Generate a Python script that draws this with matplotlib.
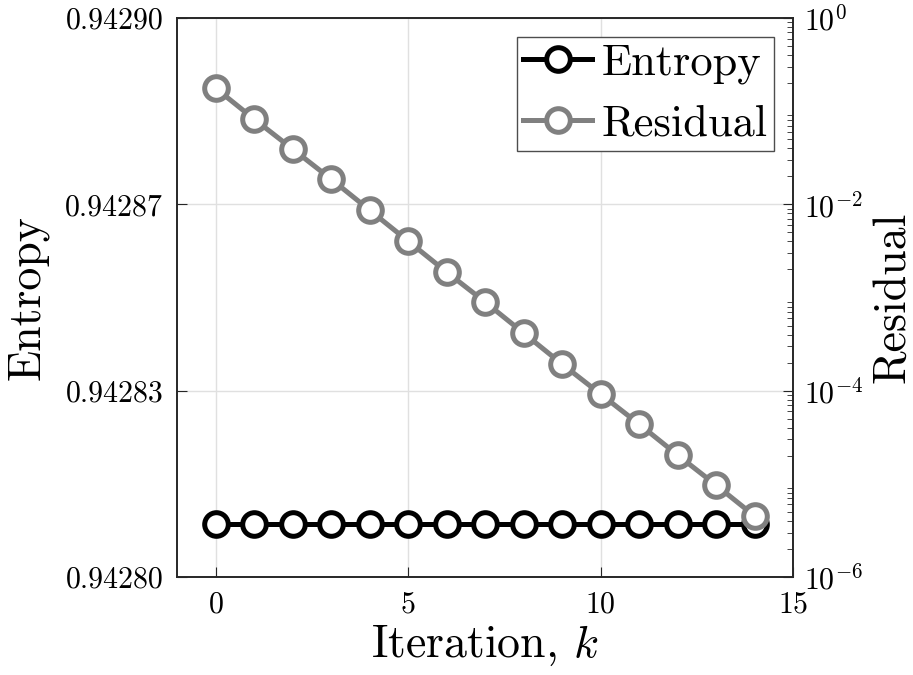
import matplotlib
matplotlib.use('Agg')
import matplotlib.pyplot as plt
import numpy as np

plt.rcParams['font.family'] = ['cmr10', 'DejaVu Serif']
plt.rcParams['mathtext.fontset'] = 'cm'
plt.rcParams['axes.formatter.use_mathtext'] = True

# data
iteration = np.arange(15)
entropy = [0.9428095] * 15
residual = [1.77e-1, 8.24e-2, 3.93e-2, 1.87e-2, 8.69e-3, 4.04e-3, 1.88e-3,
            8.96e-4, 4.16e-4, 1.93e-4, 9.2e-5, 4.38e-5, 2.04e-5, 9.7e-6,
            4.52e-6]

entropy_ticks = [0.9428, 0.94283333, 0.94286667, 0.9429]
entropy_ticklabels = ['0.94280', '0.94283', '0.94287', '0.94290']
residual_ticks = [1e-6, 1e-4, 1e-2, 1e0]
residual_ticklabels = [r'$10^{-6}$', r'$10^{-4}$', r'$10^{-2}$', r'$10^{0}$']
x_ticks = [0, 5, 10, 15]

axcol = (0.15, 0.15, 0.15)

fig = plt.figure(figsize=(9.13, 6.75), dpi=100)
ax = fig.add_axes([0.1939, 0.1452, 0.6747, 0.8281])
ax2 = ax.twinx()

l1, = ax.plot(iteration, entropy, '-o', color='k', lw=3.6, ms=17,
              mew=3.6, mfc='white', label='Entropy')
l2, = ax2.plot(iteration, residual, '-o', color=(0.5, 0.5, 0.5), lw=3.6,
               ms=17, mew=3.6, mfc='white', label='Residual')

ax.set_xlim(-1, 15)
ax.set_ylim(0.9428, 0.9429)
ax.set_xticks(x_ticks)
ax.set_yticks(entropy_ticks)
ax.set_yticklabels(entropy_ticklabels)
ax.grid(True, color=(0.88, 0.88, 0.88), lw=1)
ax.set_axisbelow(True)

ax2.set_yscale('log')
ax2.set_ylim(1e-6, 1e0)
ax2.set_yticks(residual_ticks)
ax2.set_yticklabels(residual_ticklabels)

ax.tick_params(direction='in', labelsize=21.5, length=7, color=axcol, pad=10)
ax2.tick_params(which='both', direction='in', labelsize=21.5, color=axcol, pad=8)
ax2.tick_params(which='major', length=7)
ax2.tick_params(which='minor', length=4)

for a in (ax, ax2):
    for s in a.spines.values():
        s.set_color(axcol)
        s.set_linewidth(1.2)

ax.set_xlabel(r'Iteration, $k$', fontsize=33, labelpad=4)
ax.set_ylabel('Entropy', fontsize=33, labelpad=12)
ax2.set_ylabel('Residual', fontsize=33, rotation=90, labelpad=6)

leg = ax2.legend(handles=[l1, l2], loc='upper right', fontsize=32,
                 frameon=True, fancybox=False, edgecolor=(0.3, 0.3, 0.3),
                 framealpha=1, borderpad=0.15, handlelength=1.55,
                 handletextpad=0.2, labelspacing=0.45,
                 bbox_to_anchor=(0.969, 0.966), borderaxespad=0)
leg.get_frame().set_linewidth(1.0)

fig.savefig('out.png', dpi=100)
